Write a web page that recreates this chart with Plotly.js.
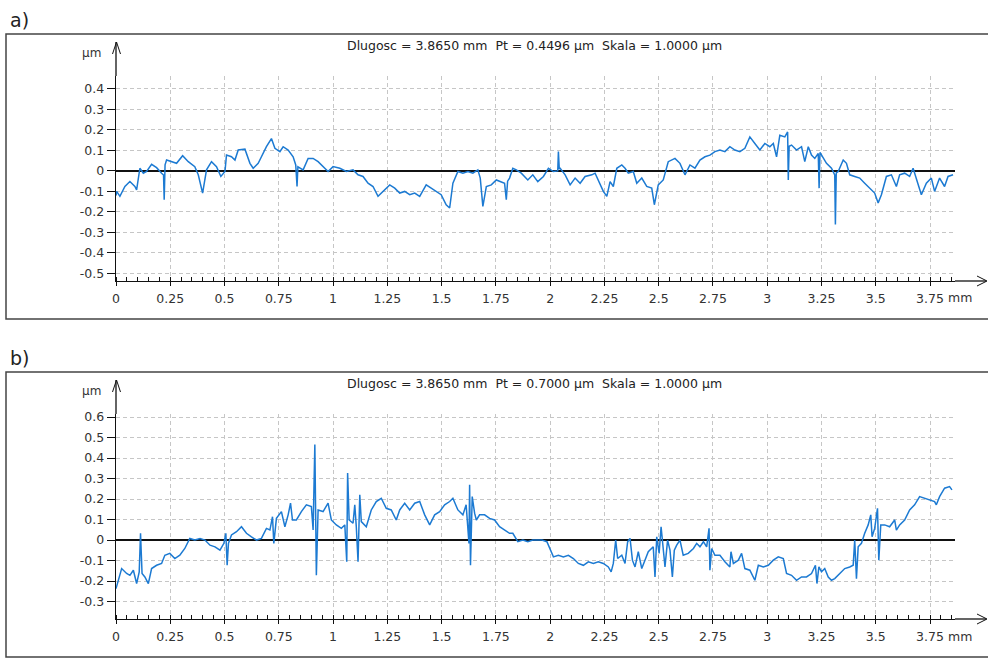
<!DOCTYPE html>
<html>
<head>
<meta charset="utf-8">
<script src="https://cdn.plot.ly/plotly-3.0.1.min.js"></script>
<style>html,body{margin:0;padding:0;background:#fff;}#chart{width:988px;height:659px;}</style>
</head>
<body>
<div id="chart"></div>
<script>
// ---------- data (mm, µm) ----------
const xA = [
0.000,0.003,0.018,0.041,0.064,0.087,0.095,0.110,0.126,0.141,
0.164,0.187,0.210,0.219,0.222,0.226,0.233,0.256,0.279,0.307,
0.333,0.363,0.379,0.399,0.417,0.440,0.463,0.483,0.502,0.509,
0.532,0.548,0.563,0.594,0.617,0.632,0.655,0.670,0.693,0.716,
0.732,0.755,0.770,0.793,0.816,0.828,0.834,0.838,0.847,0.862,
0.885,0.908,0.931,0.954,0.977,1.000,1.031,1.061,1.092,1.115,
1.138,1.161,1.184,1.207,1.222,1.238,1.261,1.284,1.307,1.330,
1.353,1.376,1.399,1.429,1.452,1.475,1.498,1.521,1.537,1.552,
1.575,1.598,1.621,1.644,1.667,1.678,1.690,1.706,1.729,1.752,
1.775,1.790,1.798,1.804,1.813,1.828,1.844,1.867,1.897,1.920,
1.943,
1.969,1.992,2.015,2.035,2.038,2.042,2.046,2.069,2.092,2.115,
2.138,2.161,2.192,2.207,2.222,2.245,2.261,2.276,2.291,2.307,
2.330,2.345,2.360,2.383,2.399,2.422,2.445,2.468,2.480,2.498,
2.521,2.544,2.575,2.598,2.621,2.644,2.667,2.690,2.713,2.736,
2.759,2.782,2.805,2.828,2.851,2.874,2.897,2.920,2.943,2.966,
2.989,3.012,3.028,3.043,3.058,3.081,3.094,3.097,3.101,3.112,
3.135,3.158,3.173,3.189,3.204,3.219,3.235,3.239,3.243,3.273,
3.296,3.311,3.314,3.318,3.327,3.350,3.365,3.380,3.403,3.426,
3.449,3.472,3.495,3.511,3.526,3.549,3.572,3.595,3.610,3.633,
3.656,3.672,3.695,3.710,3.733,3.756,3.771,3.794,3.817,3.833,
3.856];
const yA = [
-0.120,-0.100,-0.124,-0.076,-0.052,-0.076,-0.092,0.013,-0.011,-0.003,
0.032,0.016,-0.011,-0.020,-0.140,0.030,0.053,0.045,0.037,0.074,
0.045,0.021,-0.019,-0.108,0.005,0.045,0.021,-0.027,-0.003,0.077,
0.069,0.053,0.102,0.106,0.037,0.013,0.037,0.069,0.118,0.158,
0.110,0.094,0.118,0.102,0.069,0.029,-0.076,0.020,0.013,0.005,
0.061,0.061,0.045,0.021,-0.003,0.021,0.013,-0.003,0.005,-0.019,
-0.027,-0.060,-0.076,-0.124,-0.108,-0.092,-0.068,-0.084,-0.108,-0.100,
-0.116,-0.108,-0.124,-0.068,-0.084,-0.100,-0.116,-0.165,-0.181,-0.060,
-0.003,-0.011,-0.003,-0.011,0.005,-0.035,-0.173,-0.076,-0.068,-0.044,
-0.052,-0.060,-0.140,-0.050,-0.035,0.013,0.005,-0.011,-0.044,-0.019,
-0.052,
-0.027,0.013,-0.003,0.000,0.094,0.010,0.013,-0.019,-0.068,-0.035,
-0.060,-0.027,-0.019,-0.011,-0.044,-0.100,-0.124,-0.052,-0.076,0.013,
0.029,0.013,-0.011,-0.003,-0.060,-0.035,-0.076,-0.084,-0.165,-0.068,
-0.044,0.045,0.061,0.037,-0.019,0.029,0.013,0.053,0.069,0.077,
0.094,0.102,0.094,0.118,0.102,0.094,0.110,0.166,0.134,0.102,
0.134,0.118,0.134,0.069,0.174,0.166,0.190,-0.044,0.120,0.126,
0.102,0.118,0.045,0.118,0.077,0.061,0.085,-0.084,0.090,0.037,
0.013,-0.019,-0.261,-0.010,-0.003,0.053,0.037,-0.019,-0.027,-0.035,
-0.060,-0.084,-0.108,-0.156,-0.116,-0.027,-0.019,-0.076,-0.019,-0.011,
-0.027,0.013,-0.060,-0.116,-0.060,-0.035,-0.100,-0.035,-0.076,-0.027,
-0.019];

const xB = [
0.000,0.011,0.026,0.049,0.064,0.080,0.095,0.107,0.113,0.120,
0.133,0.149,0.164,0.187,0.210,0.225,0.248,0.271,0.294,0.317,
0.340,0.363,0.387,0.410,0.433,0.456,0.479,0.497,0.506,0.512,
0.518,0.532,0.555,0.578,0.601,0.624,0.647,0.670,0.693,0.709,
0.721,0.727,0.739,0.762,0.778,0.793,0.804,0.813,0.831,0.854,
0.877,0.900,0.908,0.916,0.923,0.931,0.954,0.977,0.992,1.015,
1.038,1.054,1.058,1.063,1.067,1.074,1.092,1.100,1.107,1.115,
1.123,1.130,1.153,1.176,1.199,1.222,1.245,1.268,1.291,1.307,
1.330,1.353,1.376,1.399,1.422,1.445,1.468,1.491,1.514,1.537,
1.552,1.575,1.598,1.613,1.626,1.629,1.633,1.641,1.652,1.660,
1.675,1.698,1.721,1.744,1.767,1.790,1.813,1.828,1.851,1.874,
1.897,1.920,1.943,
1.962,1.985,2.000,2.015,2.038,2.061,2.084,2.107,2.130,2.153,
2.176,2.199,2.222,2.245,2.268,2.281,2.291,2.302,2.311,2.330,
2.345,2.357,2.368,2.379,2.391,2.406,2.422,2.437,2.452,2.475,
2.483,2.491,2.502,2.511,2.521,2.529,2.541,2.552,2.563,2.572,
2.583,2.598,2.613,2.636,2.660,2.675,2.690,2.706,2.721,2.732,
2.736,2.744,2.759,2.782,2.805,2.828,2.833,2.844,2.867,2.882,
2.897,2.920,2.943,2.959,2.982,3.005,3.028,3.051,3.074,3.089,
3.112,3.135,3.158,3.181,3.204,3.222,3.229,3.238,3.250,3.265,
3.281,3.296,3.311,3.334,3.357,3.380,3.396,3.403,3.411,3.419,
3.434,3.449,3.465,3.477,3.483,3.495,3.508,3.514,3.523,3.541,
3.564,3.587,3.595,3.610,3.633,3.656,3.679,3.702,3.725,3.748,
3.771,3.779,3.794,3.817,3.840,3.851];
const yB = [
-0.237,-0.196,-0.139,-0.163,-0.172,-0.147,-0.212,-0.155,0.033,-0.163,
-0.180,-0.212,-0.139,-0.123,-0.114,-0.074,-0.065,-0.090,-0.074,-0.041,
0.008,0.000,0.008,0.000,-0.025,-0.033,-0.049,-0.016,0.033,-0.123,
-0.016,0.025,0.041,0.065,0.033,0.016,0.000,0.008,0.057,0.049,
0.114,-0.016,0.106,0.139,0.065,0.123,0.180,0.098,0.098,0.139,
0.172,0.163,0.049,0.466,-0.172,0.147,0.139,0.180,0.098,0.074,
0.057,0.074,0.000,-0.106,0.327,0.098,0.082,0.172,0.065,-0.106,
0.221,0.090,0.065,0.147,0.188,0.204,0.155,0.147,0.098,0.147,
0.180,0.147,0.180,0.188,0.123,0.074,0.123,0.139,0.172,0.188,
0.204,0.147,0.123,0.172,-0.016,0.270,-0.123,0.212,0.131,0.098,
0.123,0.123,0.106,0.098,0.065,0.049,0.033,0.033,-0.008,0.000,
-0.008,0.000,0.000,
0.000,-0.008,-0.049,-0.082,-0.074,-0.082,-0.074,-0.090,-0.114,-0.123,
-0.106,-0.114,-0.106,-0.114,-0.131,-0.155,-0.114,0.000,-0.090,-0.074,
-0.114,-0.008,0.008,-0.098,-0.131,-0.057,-0.139,-0.098,-0.057,-0.033,
-0.180,0.016,-0.065,0.065,-0.033,-0.131,0.000,-0.049,-0.180,-0.049,
-0.025,0.000,-0.074,-0.065,-0.041,-0.016,-0.033,-0.008,-0.033,0.057,
-0.147,-0.041,-0.074,-0.074,-0.106,-0.131,-0.057,-0.114,-0.098,-0.065,
-0.139,-0.147,-0.196,-0.123,-0.131,-0.123,-0.098,-0.082,-0.090,-0.163,
-0.172,-0.196,-0.180,-0.180,-0.163,-0.123,-0.212,-0.131,-0.155,-0.139,
-0.180,-0.196,-0.188,-0.163,-0.139,-0.131,-0.123,0.000,-0.188,-0.033,
-0.016,0.033,0.074,0.123,0.016,0.057,0.155,-0.098,0.074,0.074,
0.065,0.098,0.049,0.074,0.098,0.147,0.172,0.212,0.204,0.196,
0.188,0.172,0.212,0.253,0.261,0.245];

// ticks / labels
const xTickVals = [0,0.25,0.5,0.75,1,1.25,1.5,1.75,2,2.25,2.5,2.75,3,3.25,3.5,3.75];
const xTickText = ["0","0.25","0.5","0.75","1","1.25","1.5","1.75","2","2.25","2.5","2.75","3","3.25","3.5","3.75"];
const yTickValsA = [0.4,0.3,0.2,0.1,0,-0.1,-0.2,-0.3,-0.4,-0.5];
const yTickTextA = ["0.4","0.3","0.2","0.1","0","-0.1","-0.2","-0.3","-0.4","-0.5"];
const yTickValsB = [0.6,0.5,0.4,0.3,0.2,0.1,0,-0.1,-0.2,-0.3];
const yTickTextB = ["0.6","0.5","0.4","0.3","0.2","0.1","0","-0.1","-0.2","-0.3"];
const panelLabels = ["a)","b)"];
const headerA = "Dlugosc = 3.8650 mm\u00a0\u00a0Pt = 0.4496 µm\u00a0\u00a0Skala = 1.0000 µm";
const headerB = "Dlugosc = 3.8650 mm\u00a0\u00a0Pt = 0.7000 µm\u00a0\u00a0Skala = 1.0000 µm";
const xMax = 3.865;

// ---------- layout helpers ----------
const W = 988, H = 659;
const px = x => x / W;
const py = y => 1 - y / H;
const FONT = "DejaVu Sans";
const TXT = "#333";
const AX = "#111";
const GRID = "#c6c6c6";
const LINE = "#1c7ad2";

function xMain(anchor){
  return {domain:[px(116), px(955)], range:[0, xMax], anchor:anchor,
    tickmode:'array', tickvals:xTickVals, ticktext:xTickText,
    ticks:'outside', ticklen:4, tickwidth:1, tickcolor:AX,
    showline:true, linecolor:AX, linewidth:1.3,
    showgrid:true, gridcolor:GRID, griddash:'4px,3px', gridwidth:1,
    zeroline:false, fixedrange:true,
    minor:{tickmode:'linear', tick0:0, dtick:0.05, ticks:'inside', ticklen:4, tickwidth:1, tickcolor:AX, showgrid:false},
    tickfont:{family:FONT, size:12.5, color:TXT}, ticklabelstandoff:2};
}
function xTop(over, anchor){
  return {overlaying:over, anchor:anchor, side:'top', range:[0, xMax],
    tickmode:'linear', tick0:0, dtick:0.05, ticks:'outside', ticklen:4, tickwidth:1, tickcolor:AX,
    showticklabels:false, showline:true, linecolor:AX, linewidth:1.3,
    showgrid:false, zeroline:false, fixedrange:true};
}
function yMain(top, bottom, range, vals, text, anchor){
  return {domain:[py(bottom), py(top)], range:range, anchor:anchor,
    tickmode:'array', tickvals:vals, ticktext:text,
    ticks:'outside', ticklen:8, tickwidth:1, tickcolor:AX,
    showline:true, linecolor:AX, linewidth:1.3,
    showgrid:true, gridcolor:GRID, griddash:'4px,3px', gridwidth:1,
    zeroline:true, zerolinecolor:AX, zerolinewidth:1.3, fixedrange:true,
    tickfont:{family:FONT, size:12.5, color:TXT}};
}
function yRight(over, anchor, range, vals){
  return {overlaying:over, anchor:anchor, side:'right', range:range,
    tickmode:'array', tickvals:vals, ticks:'outside', ticklen:4, tickwidth:1, tickcolor:AX,
    showticklabels:false, showline:true, linecolor:AX, linewidth:1.3,
    showgrid:false, zeroline:false, fixedrange:true};
}

const traces = [
  {x:xA, y:yA, xaxis:'x', yaxis:'y', type:'scatter', mode:'lines',
   line:{color:LINE, width:1.5}, hoverinfo:'skip', showlegend:false},
  {x:xB, y:yB, xaxis:'x2', yaxis:'y2', type:'scatter', mode:'lines',
   line:{color:LINE, width:1.5}, hoverinfo:'skip', showlegend:false}
];

const shapes = [];
const annotations = [];
function decorate(dy, label, header){
  shapes.push({type:'rect', xref:'paper', yref:'paper', x0:px(6), x1:px(992), y0:py(319+dy), y1:py(34+dy),
    line:{color:'#444', width:1.5}, fillcolor:'rgba(0,0,0,0)', layer:'below'});
  shapes.push({type:'line', xref:'paper', yref:'paper', x0:px(116), x1:px(116), y0:py(76+dy), y1:py(42+dy),
    line:{color:AX, width:1.3}});
  shapes.push({type:'path', xref:'paper', yref:'paper',
    path:`M ${px(112.5)},${py(54+dy)} L ${px(116.5)},${py(42+dy)} L ${px(120.5)},${py(54+dy)}`,
    line:{color:AX, width:1}});
  shapes.push({type:'line', xref:'paper', yref:'paper', x0:px(955), x1:px(986), y0:py(281+dy), y1:py(281+dy),
    line:{color:AX, width:1.3}});
  shapes.push({type:'path', xref:'paper', yref:'paper',
    path:`M ${px(977)},${py(276+dy)} L ${px(987)},${py(281+dy)} L ${px(977)},${py(286+dy)}`,
    line:{color:AX, width:1}});
  annotations.push({xref:'paper', yref:'paper', x:px(8), y:py(20+dy), xanchor:'left', yanchor:'middle',
    text:label, showarrow:false, font:{family:FONT, size:19, color:'#222'}});
  annotations.push({xref:'paper', yref:'paper', x:px(534), y:py(45+dy), xanchor:'center', yanchor:'middle',
    text:header, showarrow:false, font:{family:FONT, size:12.5, color:'#222'}});
  annotations.push({xref:'paper', yref:'paper', x:px(91), y:py(53+dy), xanchor:'center', yanchor:'middle',
    text:'µm', showarrow:false, font:{family:FONT, size:12, color:TXT}});
  annotations.push({xref:'paper', yref:'paper', x:px(946), y:py(298+dy), xanchor:'left', yanchor:'middle',
    text:'mm', showarrow:false, font:{family:FONT, size:12.5, color:TXT}});
}
decorate(0, panelLabels[0], headerA);
decorate(338, panelLabels[1], headerB);

const layout = {
  width:W, height:H, margin:{l:0, r:0, t:0, b:0},
  paper_bgcolor:'#fff', plot_bgcolor:'#fff', showlegend:false,
  xaxis: xMain('y'),
  yaxis: yMain(76, 281, [-0.537, 0.463], yTickValsA, yTickTextA, 'x'),
  xaxis2: xMain('y2'),
  yaxis2: yMain(414, 619, [-0.385, 0.615], yTickValsB, yTickTextB, 'x2'),
  xaxis3: xTop('x', 'y'),
  yaxis3: yRight('y', 'x', [-0.537, 0.463], yTickValsA),
  xaxis4: xTop('x2', 'y2'),
  yaxis4: yRight('y2', 'x2', [-0.385, 0.615], yTickValsB),
  shapes: shapes,
  annotations: annotations
};

Plotly.newPlot('chart', traces, layout, {displayModeBar:false, staticPlot:true});
</script>
</body>
</html>
